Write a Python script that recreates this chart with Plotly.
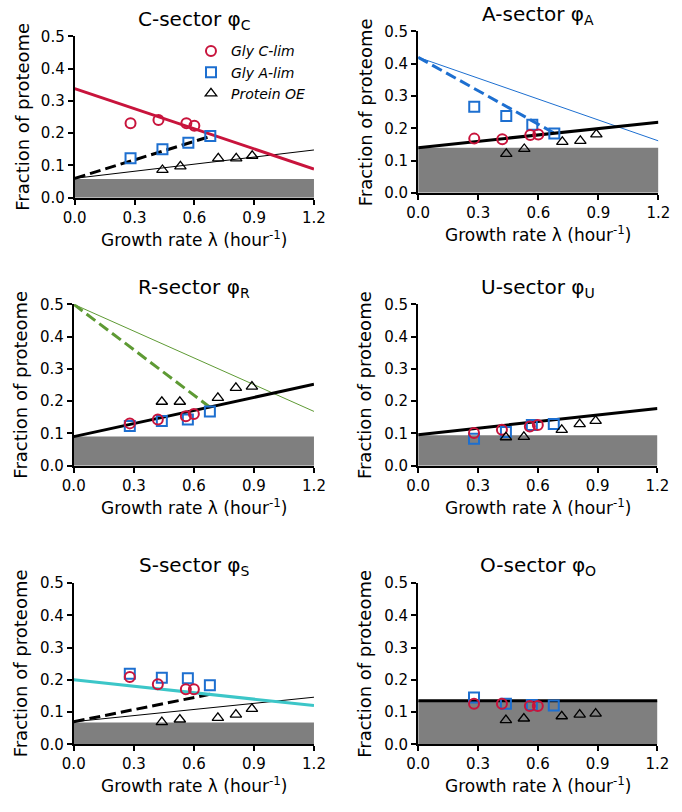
import plotly.graph_objects as go
from plotly.subplots import make_subplots

# growth rates (hour^-1) of the three series
lam_c_lim = [0.28, 0.42, 0.56, 0.60]
lam_a_lim = [0.28, 0.44, 0.57, 0.68]
lam_oe = [0.44, 0.53, 0.72, 0.81, 0.89]

sectors = ["C", "A", "R", "U", "S", "O"]

# proteome fractions per sector
c_lim = {
    "C": [0.231, 0.241, 0.231, 0.223],
    "A": [0.168, 0.166, 0.179, 0.181],
    "R": [0.131, 0.143, 0.153, 0.160],
    "U": [0.101, 0.111, 0.121, 0.126],
    "S": [0.209, 0.186, 0.171, 0.171],
    "O": [0.126, 0.126, 0.119, 0.119],
}
a_lim = {
    "C": [0.122, 0.150, 0.170, 0.191],
    "A": [0.267, 0.238, 0.211, 0.184],
    "R": [0.123, 0.138, 0.143, 0.168],
    "U": [0.083, 0.104, 0.126, 0.129],
    "S": [0.219, 0.206, 0.205, 0.183],
    "O": [0.145, 0.126, 0.122, 0.120],
}
prot_oe = {
    "C": [0.086, 0.097, 0.122, 0.122, 0.130],
    "A": [0.121, 0.136, 0.158, 0.161, 0.181],
    "R": [0.198, 0.198, 0.210, 0.241, 0.245],
    "U": [0.088, 0.089, 0.111, 0.129, 0.139],
    "S": [0.069, 0.077, 0.082, 0.092, 0.110],
    "O": [0.075, 0.080, 0.087, 0.092, 0.095],
}

# growth-independent offset (grey band)
offset = {"C": 0.058, "A": 0.14, "R": 0.09, "U": 0.094, "S": 0.068, "O": 0.135}

# fitted lines: end points
full_x = [0.0, 1.2]
main_line = {
    "C": [0.338, 0.089],
    "A": [0.14, 0.219],
    "R": [0.09, 0.252],
    "U": [0.096, 0.177],
    "S": [0.20, 0.12],
    "O": [0.135, 0.135],
}
thin_line = {
    "C": [0.06, 0.148],
    "A": [0.42, 0.161],
    "R": [0.50, 0.168],
    "S": [0.07, 0.146],
}
dash_x = [0.0, 0.68]
dash_line = {
    "C": [0.06, 0.19],
    "A": [0.42, 0.185],
    "R": [0.50, 0.181],
    "S": [0.07, 0.155],
}

RED = "#c8143c"
BLUE = "#1d6fd0"
GREEN = "#5e9a34"
CYAN = "#3cc6c8"
GREY = "#7f7f7f"
FONT = "DejaVu Sans, sans-serif"

main_color = {"C": RED, "A": "black", "R": "black", "U": "black", "S": CYAN, "O": "black"}
side_color = {"C": "black", "A": BLUE, "R": GREEN, "S": "black"}

fig = make_subplots(rows=3, cols=2)

# pixel layout of each panel (left, right, top, bottom)
W, H = 682, 812
boxes = {
    "C": (65, 313, 28, 193),
    "A": (421, 670, 23, 188),
    "R": (64, 313, 302, 467),
    "U": (421, 669, 302, 467),
    "S": (64, 313, 587, 752),
    "O": (421, 669, 587, 752),
}

for i, s in enumerate(sectors):
    row, col = i // 2 + 1, i % 2 + 1
    first = s == "C"

    fig.add_trace(go.Scatter(x=full_x, y=[offset[s], offset[s]], mode="lines",
                             line=dict(width=0), fill="tozeroy", fillcolor=GREY,
                             showlegend=False, hoverinfo="skip"), row=row, col=col)
    if s in thin_line:
        fig.add_trace(go.Scatter(x=full_x, y=thin_line[s], mode="lines",
                                 line=dict(color=side_color[s], width=1),
                                 showlegend=False), row=row, col=col)
        fig.add_trace(go.Scatter(x=dash_x, y=dash_line[s], mode="lines",
                                 line=dict(color=side_color[s], width=3, dash="11px,5px"),
                                 showlegend=False), row=row, col=col)
    fig.add_trace(go.Scatter(x=full_x, y=main_line[s], mode="lines",
                             line=dict(color=main_color[s], width=3),
                             showlegend=False), row=row, col=col)

    fig.add_trace(go.Scatter(x=lam_a_lim, y=a_lim[s], mode="markers", name="<i>Gly A-lim</i>",
                             marker=dict(symbol="square-open", size=10, color=BLUE,
                                         line=dict(width=2)),
                             showlegend=first, legendrank=2, cliponaxis=False), row=row, col=col)
    fig.add_trace(go.Scatter(x=lam_c_lim, y=c_lim[s], mode="markers", name="<i>Gly C-lim</i>",
                             marker=dict(symbol="circle-open", size=10, color=RED,
                                         line=dict(width=2)),
                             showlegend=first, legendrank=1, cliponaxis=False), row=row, col=col)
    fig.add_trace(go.Scatter(x=lam_oe, y=prot_oe[s], mode="markers", name="<i>Protein OE</i>",
                             marker=dict(symbol="triangle-up-open", size=10, color="black",
                                         line=dict(width=1.3)),
                             showlegend=first, legendrank=3, cliponaxis=False), row=row, col=col)

    l, r, t, b = boxes[s]
    ax = dict(showline=True, linecolor="black", linewidth=2, ticks="outside", ticklen=5,
              tickwidth=2, tickcolor="black", showgrid=False, zeroline=False,
              tickfont=dict(family=FONT, size=15, color="black"))
    fig.update_xaxes(ax, range=[0, 1.2], tickvals=[0, 0.3, 0.6, 0.9, 1.2],
                     tickformat=".1f", domain=[l / W, r / W], row=row, col=col)
    fig.update_yaxes(ax, range=[0, 0.5], tickvals=[0, 0.1, 0.2, 0.3, 0.4, 0.5],
                     tickformat=".1f", domain=[1 - b / H, 1 - t / H], row=row, col=col)

    cx = (l + r) / 2
    fig.add_annotation(text=f"{s}-sector φ<sub>{s}</sub>", x=cx / W, y=1 - (t - 17) / H,
                       xref="paper", yref="paper", showarrow=False,
                       xanchor="center", yanchor="middle",
                       font=dict(family=FONT, size=20, color="black"))
    fig.add_annotation(text="Growth rate λ (hour<sup>-1</sup>)", x=cx / W, y=1 - (b + 42) / H,
                       xref="paper", yref="paper", showarrow=False,
                       xanchor="center", yanchor="middle",
                       font=dict(family=FONT, size=17, color="black"))
    fig.add_annotation(text="Fraction of proteome", x=(l - 55) / W, y=1 - (t + b) / 2 / H,
                       xref="paper", yref="paper", showarrow=False, textangle=-90,
                       xanchor="center", yanchor="middle",
                       font=dict(family=FONT, size=18, color="black"))

fig.update_layout(
    width=W, height=H, margin=dict(l=0, r=0, t=0, b=0),
    plot_bgcolor="white", paper_bgcolor="white",
    font=dict(family=FONT, color="black"),
    legend=dict(x=0.272, y=1 - 27 / H, xanchor="left", yanchor="top",
                bgcolor="rgba(0,0,0,0)", font=dict(family=FONT, size=14),
                itemwidth=30, tracegroupgap=0),
)

# page body has an 8px default margin; drop it so the figure sits at 0,0
fig.write_html("out.html", config={"displayModeBar": False},
               post_script="document.body.style.margin='0';")
